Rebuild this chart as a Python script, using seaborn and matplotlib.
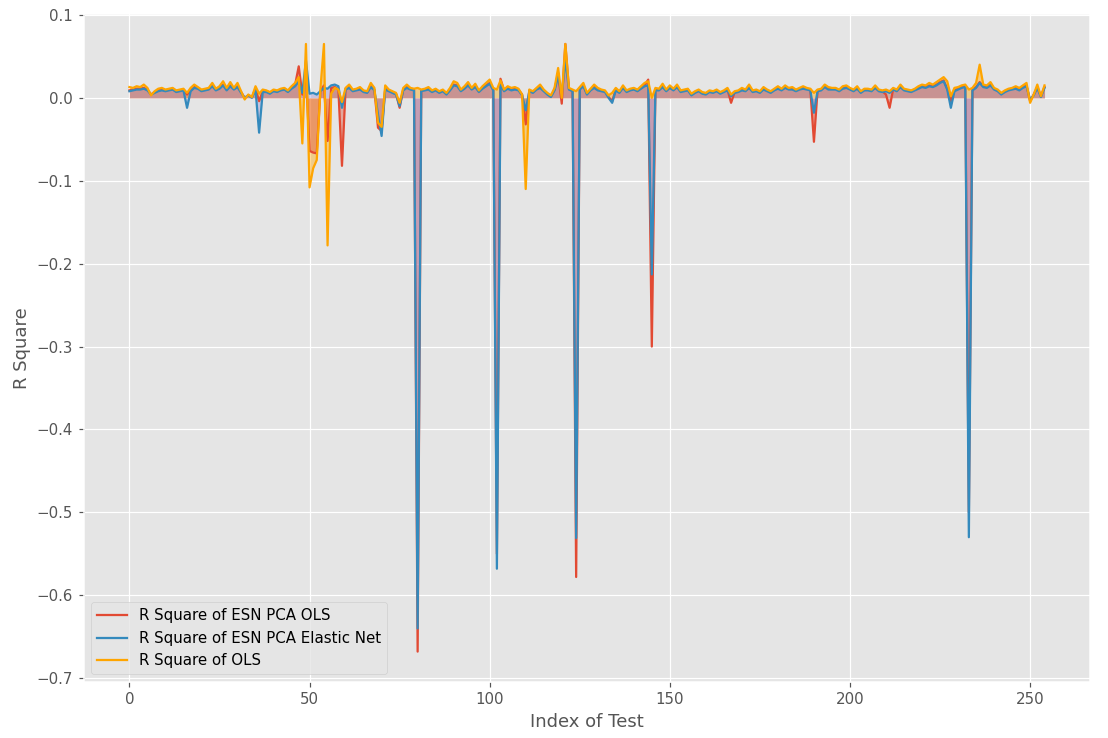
import numpy as np
import pandas as pd
import matplotlib
matplotlib.use("Agg")
import matplotlib.pyplot as plt
import seaborn as sns

# ---------------- data ----------------
esn_pca_ols = [
    0.009, 0.010, 0.011, 0.011, 0.012, 0.010, 0.004, 0.007, 0.009, 0.010,
    0.009, 0.010, 0.011, 0.008, 0.009, 0.010, 0.004, 0.009, 0.013, 0.012,
    0.009, 0.010, 0.011, 0.015, 0.010, 0.012, 0.016, 0.010, 0.015, 0.011,
    0.014, 0.007, 0.000, 0.003, 0.001, 0.011, -0.004, 0.008, 0.008, 0.006,
    0.009, 0.008, 0.010, 0.011, 0.008, 0.012, 0.016, 0.038, 0.004, 0.030,
    -0.064, -0.066, -0.067, 0.008, 0.015, -0.052, 0.012, 0.013, 0.010, -0.082,
    0.011, 0.013, 0.009, 0.010, 0.011, 0.008, 0.007, 0.014, 0.010, -0.036,
    -0.040, 0.011, 0.009, 0.007, 0.005, -0.012, 0.010, 0.013, 0.011, 0.010,
    -0.668, 0.009, 0.010, 0.011, 0.008, 0.010, 0.007, 0.009, 0.005, 0.010,
    0.016, 0.015, 0.009, 0.012, 0.016, 0.011, 0.014, 0.008, 0.012, 0.015,
    0.018, 0.010, -0.550, 0.023, 0.009, 0.012, 0.010, 0.011, 0.010, 0.004,
    -0.032, 0.009, 0.007, 0.011, 0.013, 0.009, 0.005, 0.002, 0.010, 0.030,
    -0.007, 0.065, 0.011, 0.009, -0.578, 0.011, 0.015, 0.005, 0.010, 0.013,
    0.010, 0.009, 0.008, 0.001, -0.004, 0.010, 0.007, 0.013, 0.008, 0.010,
    0.011, 0.009, 0.012, 0.015, 0.022, -0.300, 0.010, 0.010, 0.014, 0.009,
    0.013, 0.010, 0.014, 0.008, 0.009, 0.010, 0.004, 0.007, 0.009, 0.006,
    0.005, 0.008, 0.007, 0.009, 0.006, 0.008, 0.010, -0.006, 0.007, 0.008,
    0.010, 0.009, 0.013, 0.008, 0.009, 0.007, 0.011, 0.009, 0.007, 0.010,
    0.012, 0.010, 0.013, 0.011, 0.011, 0.009, 0.011, 0.012, 0.011, 0.010,
    -0.053, 0.009, 0.010, 0.014, 0.011, 0.011, 0.011, 0.009, 0.012, 0.013,
    0.011, 0.009, 0.012, 0.007, 0.010, 0.010, 0.009, 0.013, 0.009, 0.008,
    0.004, -0.012, 0.011, 0.009, 0.014, 0.010, 0.009, 0.008, 0.010, 0.012,
    0.014, 0.013, 0.015, 0.014, 0.016, 0.019, 0.021, 0.011, -0.004, 0.009,
    0.011, 0.013, 0.014, -0.500, 0.010, 0.013, 0.019, 0.014, 0.013, 0.016,
    0.011, 0.009, 0.005, 0.008, 0.010, 0.011, 0.012, 0.010, 0.013, 0.015,
    -0.004, 0.004, 0.013, 0.002, 0.013,
]

esn_pca_enet = [
    0.008, 0.009, 0.010, 0.010, 0.011, 0.009, 0.004, 0.006, 0.008, 0.009,
    0.008, 0.009, 0.010, 0.007, 0.008, 0.009, -0.012, 0.008, 0.012, 0.011,
    0.008, 0.009, 0.010, 0.014, 0.009, 0.011, 0.015, 0.009, 0.014, 0.010,
    0.013, 0.006, 0.000, 0.003, 0.000, 0.010, -0.042, 0.007, 0.007, 0.005,
    0.008, 0.007, 0.009, 0.010, 0.007, 0.011, 0.014, 0.020, 0.006, 0.045,
    0.005, 0.006, 0.004, 0.008, 0.012, 0.011, 0.015, 0.016, 0.014, -0.012,
    0.010, 0.012, 0.008, 0.009, 0.010, 0.007, 0.006, 0.013, 0.009, -0.020,
    -0.046, 0.010, 0.008, 0.006, 0.004, -0.010, 0.009, 0.012, 0.010, 0.009,
    -0.640, 0.008, 0.009, 0.010, 0.007, 0.009, 0.006, 0.008, 0.004, 0.009,
    0.015, 0.014, 0.008, 0.011, 0.015, 0.010, 0.013, 0.007, 0.011, 0.014,
    0.017, 0.009, -0.568, 0.016, 0.008, 0.011, 0.009, 0.010, 0.009, 0.003,
    -0.015, 0.008, 0.006, 0.010, 0.012, 0.008, 0.004, 0.001, 0.009, 0.026,
    0.004, 0.045, 0.010, 0.008, -0.531, 0.010, 0.014, 0.004, 0.009, 0.012,
    0.009, 0.008, 0.007, 0.000, -0.006, 0.009, 0.006, 0.012, 0.007, 0.009,
    0.010, 0.008, 0.011, 0.014, 0.015, -0.213, 0.009, 0.009, 0.013, 0.008,
    0.012, 0.009, 0.013, 0.007, 0.008, 0.009, 0.003, 0.006, 0.008, 0.005,
    0.004, 0.007, 0.006, 0.008, 0.005, 0.007, 0.009, 0.002, 0.006, 0.007,
    0.009, 0.008, 0.012, 0.007, 0.008, 0.006, 0.010, 0.008, 0.006, 0.009,
    0.011, 0.009, 0.012, 0.010, 0.010, 0.008, 0.010, 0.011, 0.010, 0.009,
    -0.018, 0.008, 0.009, 0.013, 0.010, 0.010, 0.010, 0.008, 0.011, 0.012,
    0.010, 0.008, 0.011, 0.006, 0.009, 0.009, 0.008, 0.012, 0.008, 0.007,
    0.008, 0.006, 0.010, 0.008, 0.013, 0.009, 0.008, 0.007, 0.009, 0.011,
    0.013, 0.012, 0.014, 0.013, 0.015, 0.018, 0.020, 0.010, -0.012, 0.008,
    0.010, 0.012, 0.013, -0.530, 0.009, 0.012, 0.018, 0.013, 0.012, 0.015,
    0.010, 0.008, 0.004, 0.007, 0.009, 0.010, 0.011, 0.009, 0.012, 0.014,
    -0.002, 0.003, 0.012, 0.001, 0.012,
]

ols = [
    0.013, 0.012, 0.014, 0.013, 0.016, 0.012, 0.003, 0.008, 0.011, 0.012,
    0.010, 0.011, 0.012, 0.009, 0.010, 0.011, 0.006, 0.012, 0.016, 0.013,
    0.010, 0.011, 0.012, 0.018, 0.011, 0.014, 0.020, 0.012, 0.019, 0.012,
    0.018, 0.008, -0.002, 0.004, 0.001, 0.014, 0.005, 0.010, 0.009, 0.007,
    0.010, 0.009, 0.011, 0.012, 0.009, 0.014, 0.018, 0.025, -0.055, 0.065,
    -0.108, -0.085, -0.075, 0.010, 0.065, -0.178, 0.005, 0.012, 0.010, -0.005,
    0.012, 0.016, 0.010, 0.011, 0.013, 0.009, 0.008, 0.018, 0.012, -0.030,
    -0.035, 0.015, 0.010, 0.008, 0.006, -0.006, 0.012, 0.016, 0.012, 0.011,
    0.012, 0.010, 0.011, 0.013, 0.009, 0.011, 0.008, 0.010, 0.006, 0.012,
    0.020, 0.018, 0.010, 0.014, 0.019, 0.012, 0.017, 0.009, 0.014, 0.018,
    0.022, 0.012, 0.010, 0.021, 0.010, 0.014, 0.012, 0.013, 0.011, 0.004,
    -0.110, 0.010, 0.008, 0.012, 0.016, 0.010, 0.006, 0.003, 0.012, 0.036,
    0.000, 0.065, 0.012, 0.010, 0.008, 0.013, 0.018, 0.006, 0.011, 0.016,
    0.012, 0.010, 0.009, 0.003, 0.006, 0.012, 0.008, 0.015, 0.009, 0.011,
    0.012, 0.010, 0.014, 0.018, 0.020, 0.000, 0.012, 0.011, 0.017, 0.010,
    0.015, 0.011, 0.016, 0.009, 0.010, 0.011, 0.005, 0.008, 0.010, 0.007,
    0.006, 0.009, 0.008, 0.010, 0.007, 0.009, 0.012, 0.004, 0.008, 0.009,
    0.012, 0.010, 0.016, 0.009, 0.010, 0.008, 0.013, 0.010, 0.008, 0.011,
    0.014, 0.011, 0.015, 0.012, 0.013, 0.010, 0.012, 0.014, 0.012, 0.011,
    0.006, 0.010, 0.011, 0.016, 0.013, 0.012, 0.012, 0.010, 0.014, 0.015,
    0.012, 0.010, 0.014, 0.008, 0.011, 0.011, 0.010, 0.015, 0.010, 0.009,
    0.010, 0.008, 0.012, 0.010, 0.016, 0.011, 0.010, 0.009, 0.011, 0.014,
    0.016, 0.015, 0.018, 0.016, 0.019, 0.022, 0.025, 0.020, 0.002, 0.012,
    0.013, 0.015, 0.016, 0.010, 0.012, 0.018, 0.040, 0.016, 0.015, 0.019,
    0.012, 0.010, 0.006, 0.009, 0.011, 0.012, 0.014, 0.012, 0.015, 0.018,
    -0.006, 0.004, 0.016, 0.002, 0.015,
]

series_labels = ["R Square of ESN PCA OLS",
                 "R Square of ESN PCA Elastic Net",
                 "R Square of OLS"]
line_colors = ["#E24A33", "#348ABD", "orange"]
fill_colors = ["#E24A33", "#988ED5", "orange"]
fill_order = [2, 0, 1]
x_label = "Index of Test"
y_label = "R Square"

# ---------------- plot ----------------
plt.style.use("ggplot")
test_index = np.arange(len(esn_pca_ols))
df = pd.DataFrame({
    "idx": test_index,
    series_labels[0]: esn_pca_ols,
    series_labels[1]: esn_pca_enet,
    series_labels[2]: ols,
})

DPI = 108
fig, ax = plt.subplots(figsize=(1108 / DPI, 738 / DPI), dpi=DPI)
fig.subplots_adjust(left=0.0755, right=0.984, top=0.9816, bottom=0.0759)

for k in fill_order:
    ax.fill_between(df["idx"], 0, df[series_labels[k]], color=fill_colors[k],
                    alpha=0.4, linewidth=0, zorder=1)
for lab, col in zip(series_labels, line_colors):
    sns.lineplot(data=df, x="idx", y=lab, color=col, label=lab, ax=ax,
                 linewidth=1.5, zorder=2)

ax.set_xlabel(x_label, fontsize=12)
ax.set_ylabel(y_label, fontsize=12)
ax.set_xticks([0, 50, 100, 150, 200, 250])
ax.set_yticks(np.round(np.arange(-0.7, 0.11, 0.1), 1))
ax.tick_params(labelsize=10)
ax.legend(loc="lower left", fontsize=10)

fig.savefig("out.png", dpi=DPI)
